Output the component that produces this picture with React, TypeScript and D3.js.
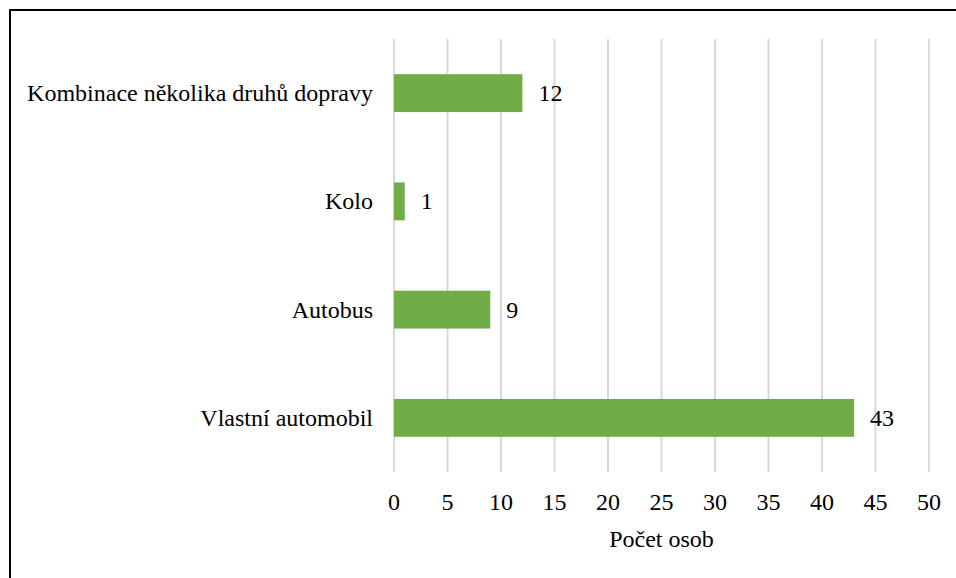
import React from "react";
import * as d3 from "d3";

const categories = ["Kombinace několika druhů dopravy", "Kolo", "Autobus", "Vlastní automobil"];
const values = [12, 1, 9, 43];
const tickValues = [0, 5, 10, 15, 20, 25, 30, 35, 40, 45, 50];
const axisTitle = "Počet osob";

export default function App() {
  const W = 956, H = 578;
  const x = d3.scaleLinear().domain([0, 50]).range([394, 929]);
  const y = d3.scaleBand<string>().domain(categories).range([39, 472]).paddingInner(0.65).paddingOuter(0.325);
  const ts: React.CSSProperties = { fontFamily: '"Liberation Serif", "Times New Roman", serif' };
  return (
    <svg width={W} height={H} style={{ position: "absolute", left: 0, top: 0 }}>
      <rect x={0} y={0} width={W} height={H} fill="#fff" />
      <rect x={10} y={10} width={W + 20} height={H + 20} fill="none" stroke="#000" strokeWidth={2} />
      {tickValues.map((t) => (
        <line key={t} x1={x(t)} x2={x(t)} y1={39} y2={472} stroke="#d9d9d9" strokeWidth={2} />
      ))}
      {categories.map((c, i) => (
        <g key={c}>
          <rect x={x(0)} y={y(c)!} width={x(values[i]) - x(0)} height={y.bandwidth()} fill="#70ad47" />
          <text style={ts} x={373} y={y(c)! + y.bandwidth() / 2} textAnchor="end" dominantBaseline="central" fontSize={24} fill="#000">{c}</text>
          <text style={ts} x={x(values[i]) + 16} y={y(c)! + y.bandwidth() / 2} dominantBaseline="central" fontSize={24} fill="#000">{values[i]}</text>
        </g>
      ))}
      {tickValues.map((t) => (
        <text style={ts} key={t} x={x(t)} y={502} textAnchor="middle" dominantBaseline="central" fontSize={24} fill="#000">{t}</text>
      ))}
      <text style={ts} x={(x(0) + x(50)) / 2} y={539} textAnchor="middle" dominantBaseline="central" fontSize={24} fill="#000">{axisTitle}</text>
    </svg>
  );
}
